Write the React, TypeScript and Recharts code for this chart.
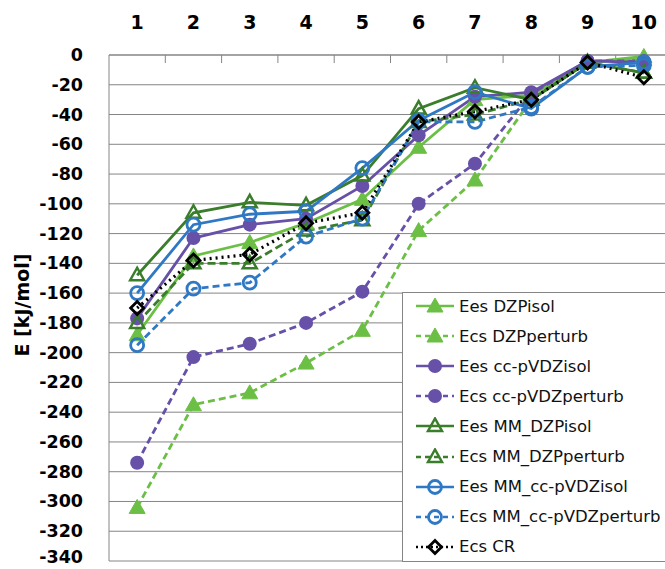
import React from 'react';
import { LineChart, Line, XAxis, YAxis, CartesianGrid, ReferenceLine } from 'recharts';

const CATEGORIES = [1, 2, 3, 4, 5, 6, 7, 8, 9, 10];
const Y_TICKS = [-340, -320, -300, -280, -260, -240, -220, -200, -180, -160, -140, -120, -100, -80, -60, -40, -20, 0];
const BETWEEN_TICKS = [1.5, 2.5, 3.5, 4.5, 5.5, 6.5, 7.5, 8.5, 9.5];

const EES_DZP_ISOL = [-188, -135, -126, -113, -97, -62, -30, -27, -5, -1];
const ECS_DZP_PERTURB = [-304, -235, -227, -207, -185, -118, -84, -30, -5, -3];
const EES_CC_ISOL = [-177, -123, -114, -110, -88, -54, -28, -25, -4, -5];
const ECS_CC_PERTURB = [-274, -203, -194, -180, -159, -100, -73, -26, -4, -4];
const EES_MM_DZP_ISOL = [-148, -106, -99, -101, -81, -36, -22, -30, -5, -12];
const ECS_MM_DZP_PERTURB = [-180, -140, -140, -118, -111, -45, -40, -30, -5, -12];
const EES_MM_CC_ISOL = [-160, -114, -107, -105, -76, -44, -25, -36, -8, -5];
const ECS_MM_CC_PERTURB = [-195, -157, -153, -122, -110, -45, -45, -35, -8, -7];
const ECS_CR = [-170, -138, -134, -113, -106, -45, -38, -30, -5, -15];

const LIGHT_GREEN = '#6cbf45';
const PURPLE = '#6650a8';
const DARK_GREEN = '#3a7d2b';
const BLUE = '#2f78c4';
const GRID = '#858585';

type MarkerKind = 'triFill' | 'circleFill' | 'triOpen' | 'circleOpen' | 'diamond';

interface SeriesConfig {
  key: string;
  label: string;
  values: number[];
  color: string;
  dash?: string;
  marker: MarkerKind;
}

const SERIES: SeriesConfig[] = [
  { key: 'eesDzp', label: 'Ees DZPisol', values: EES_DZP_ISOL, color: LIGHT_GREEN, marker: 'triFill' },
  { key: 'ecsDzp', label: 'Ecs DZPperturb', values: ECS_DZP_PERTURB, color: LIGHT_GREEN, dash: '7 4', marker: 'triFill' },
  { key: 'eesCc', label: 'Ees cc-pVDZisol', values: EES_CC_ISOL, color: PURPLE, marker: 'circleFill' },
  { key: 'ecsCc', label: 'Ecs cc-pVDZperturb', values: ECS_CC_PERTURB, color: PURPLE, dash: '7 4', marker: 'circleFill' },
  { key: 'eesMmDzp', label: 'Ees MM_DZPisol', values: EES_MM_DZP_ISOL, color: DARK_GREEN, marker: 'triOpen' },
  { key: 'ecsMmDzp', label: 'Ecs MM_DZPperturb', values: ECS_MM_DZP_PERTURB, color: DARK_GREEN, dash: '8 4', marker: 'triOpen' },
  { key: 'eesMmCc', label: 'Ees MM_cc-pVDZisol', values: EES_MM_CC_ISOL, color: BLUE, marker: 'circleOpen' },
  { key: 'ecsMmCc', label: 'Ecs MM_cc-pVDZperturb', values: ECS_MM_CC_PERTURB, color: BLUE, dash: '7 4', marker: 'circleOpen' },
  { key: 'ecsCr', label: 'Ecs CR', values: ECS_CR, color: '#000000', dash: '2 4', marker: 'diamond' },
];

const data = CATEGORIES.map((x, i) => {
  const row: Record<string, number> = { x };
  SERIES.forEach((s) => {
    row[s.key] = s.values[i];
  });
  return row;
});

function Marker({ kind, cx, cy, color }: { kind: MarkerKind; cx: number; cy: number; color: string }) {
  switch (kind) {
    case 'triFill':
      return <polygon points={`${cx},${cy - 8} ${cx - 8},${cy + 6} ${cx + 8},${cy + 6}`} fill={color} stroke={color} strokeWidth={1} />;
    case 'circleFill':
      return <circle cx={cx} cy={cy} r={7} fill={color} />;
    case 'triOpen':
      return <polygon points={`${cx},${cy - 7.5} ${cx - 7},${cy + 5} ${cx + 7},${cy + 5}`} fill="none" stroke={color} strokeWidth={2.5} />;
    case 'circleOpen':
      return <circle cx={cx} cy={cy} r={6.5} fill="none" stroke={color} strokeWidth={2.8} />;
    default:
      return <polygon points={`${cx},${cy - 6.5} ${cx + 6.5},${cy} ${cx},${cy + 6.5} ${cx - 6.5},${cy}`} fill="none" stroke={color} strokeWidth={2.8} />;
  }
}

// y tick label, nudged up near the bottom edge so it stays inside the picture
function YTick(props: any) {
  const { x, y, payload } = props;
  const ty = Math.min(y, 557);
  return (
    <text
      x={x}
      y={ty}
      textAnchor="end"
      dominantBaseline="central"
      style={{ fontFamily: 'DejaVu Sans', fontWeight: 'bold', fontSize: 17.5, fill: '#000' }}
    >
      {payload.value}
    </text>
  );
}

function YLabel(props: any) {
  const vb = props.viewBox || { x: 0, y: 0, width: 0, height: 0 };
  const cx = vb.x + 22;
  const cy = vb.y + vb.height / 2 - 3;
  return (
    <text
      x={cx}
      y={cy}
      transform={`rotate(-90 ${cx} ${cy})`}
      textAnchor="middle"
      dominantBaseline="central"
      style={{ fontFamily: 'DejaVu Sans', fontWeight: 'bold', fontSize: 19, fill: '#000' }}
    >
      E [kJ/mol]
    </text>
  );
}

function LegendBox() {
  return (
    <div
      style={{
        position: 'absolute',
        left: 402,
        top: 292,
        width: 280,
        height: 270,
        boxSizing: 'border-box',
        border: `1px solid ${GRID}`,
        background: '#fff',
      }}
    >
      <div style={{ marginTop: -2 }}>
        {SERIES.map((s) => (
          <div key={s.key} style={{ display: 'flex', alignItems: 'center', height: 30.1 }}>
            <svg width={40} height={18} style={{ marginLeft: 12, flex: 'none' }}>
              <line x1={1} y1={9} x2={39} y2={9} stroke={s.color} strokeWidth={2.5} strokeDasharray={s.dash ? (s.dash === '2 4' ? '2 3' : '5 4') : undefined} />
              <Marker kind={s.marker} cx={20} cy={9} color={s.color} />
            </svg>
            <span style={{ marginLeft: 4, fontFamily: 'DejaVu Sans', fontSize: 16.5, color: '#111', whiteSpace: 'nowrap' }}>
              {s.label}
            </span>
          </div>
        ))}
      </div>
    </div>
  );
}

export default function App() {
  return (
    <div style={{ position: 'absolute', left: 0, top: 0, width: 665, height: 569, overflow: 'hidden', background: '#fff' }}>
      <LineChart width={680} height={569} data={data} margin={{ top: 0, right: 8, left: 0, bottom: 8 }}>
        <CartesianGrid vertical={false} stroke={GRID} strokeWidth={1} />
        <XAxis
          dataKey="x"
          type="number"
          orientation="top"
          domain={[0.5, 10.5]}
          ticks={CATEGORIES}
          height={55}
          tickSize={0}
          tickMargin={26}
          tickLine={false}
          axisLine={{ stroke: GRID }}
          tick={{ fontFamily: 'DejaVu Sans', fontWeight: 'bold', fontSize: 19, fill: '#000' }}
        />
        <YAxis
          type="number"
          domain={[-340, 0]}
          ticks={Y_TICKS}
          width={109}
          tickSize={0}
          tickMargin={26}
          tickLine={false}
          axisLine={{ stroke: GRID }}
          interval={0}
          tick={<YTick />}
          label={{ content: <YLabel /> }}
        />
        {BETWEEN_TICKS.map((t) => (
          <ReferenceLine
            key={t}
            segment={[{ x: t, y: 0 }, { x: t, y: -5.4 }]}
            stroke={GRID}
            strokeWidth={1}
          />
        ))}
        {SERIES.map((s) => (
          <Line
            key={s.key}
            dataKey={s.key}
            type="linear"
            stroke={s.color}
            strokeWidth={s.marker === 'diamond' ? 3.2 : 2.8}
            strokeDasharray={s.dash}
            isAnimationActive={false}
            dot={(p: any) => <Marker key={`${s.key}-${p.index}`} kind={s.marker} cx={p.cx} cy={p.cy} color={s.color} />}
            activeDot={false}
          />
        ))}
      </LineChart>
      <LegendBox />
    </div>
  );
}
